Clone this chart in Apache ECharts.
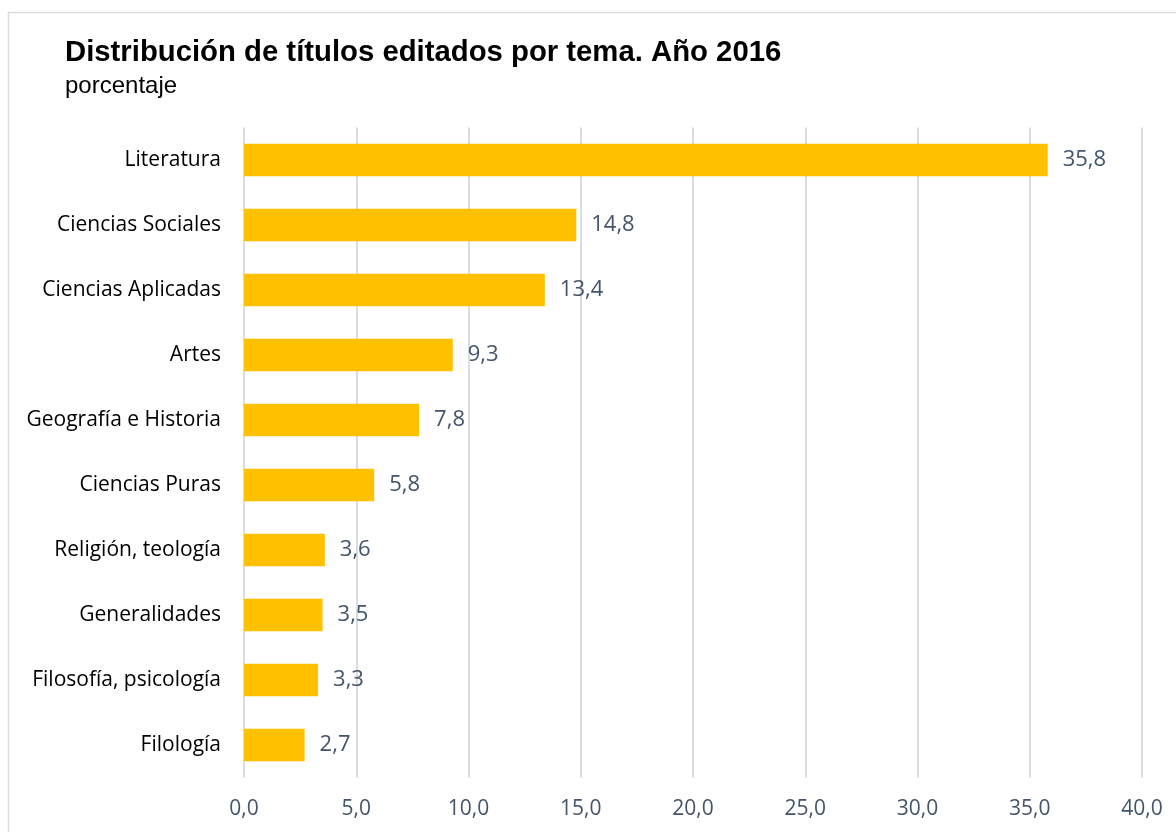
<!DOCTYPE html>
<html>
<head>
<meta charset="utf-8">
<script src="https://cdn.jsdelivr.net/npm/echarts@6/dist/echarts.min.js"></script>
<style>
  html, body { margin: 0; padding: 0; background: #fff; }
  #chart { width: 1176px; height: 832px; }
</style>
</head>
<body>
<div id="chart"></div>
<script>
// categories, bottom to top (as the category axis draws them)
var temas = ['Filología', 'Filosofía, psicología', 'Generalidades', 'Religión, teología',
  'Ciencias Puras', 'Geografía e Historia', 'Artes', 'Ciencias Aplicadas',
  'Ciencias Sociales', 'Literatura'];
var porcentajes = [2.7, 3.3, 3.5, 3.6, 5.8, 7.8, 9.3, 13.4, 14.8, 35.8];

function coma (v, d) {
  return Number(v).toFixed(d).replace('.', ',');
}

var chart = echarts.init(document.getElementById('chart'));
chart.setOption({
  animation: false,
  graphic: [{
    type: 'rect',
    shape: { x: 8.5, y: 12.5, width: 1200, height: 900 },
    style: { fill: 'none', stroke: '#d9dce1', lineWidth: 1.5 },
    silent: true
  }],
  title: {
    text: 'Distribución de títulos editados por tema. Año 2016',
    subtext: 'porcentaje',
    left: 60,
    top: 33,
    itemGap: 7,
    textStyle: { fontFamily: 'Liberation Sans', fontWeight: 'bold', fontSize: 29.3, color: '#000' },
    subtextStyle: { fontFamily: 'Liberation Sans', fontSize: 24, color: '#000' }
  },
  grid: { left: 244, right: 34, top: 127.5, bottom: 54.5, containLabel: false },
  xAxis: {
    type: 'value',
    min: 0,
    max: 40,
    interval: 5,
    axisLine: { show: false },
    axisTick: { show: false },
    splitLine: { lineStyle: { color: '#d9dde3', width: 2 } },
    axisLabel: {
      margin: 21,
      fontFamily: 'Open Sans',
      fontSize: 21,
      color: '#44546a',
      formatter: function (v) { return coma(v, 1); }
    }
  },
  yAxis: {
    type: 'category',
    data: temas,
    axisLine: { show: false },
    axisTick: { show: false },
    axisLabel: { margin: 23, fontFamily: 'Open Sans', fontSize: 21, color: '#000' }
  },
  series: [{
    type: 'bar',
    data: porcentajes,
    barCategoryGap: '50%',
    itemStyle: { color: '#ffc000' },
    label: {
      show: true,
      position: 'right',
      distance: 15,
      fontFamily: 'Open Sans',
      fontSize: 22,
      color: '#44546a',
      formatter: function (p) { return coma(p.value, 1); }
    }
  }]
});
</script>
</body>
</html>
